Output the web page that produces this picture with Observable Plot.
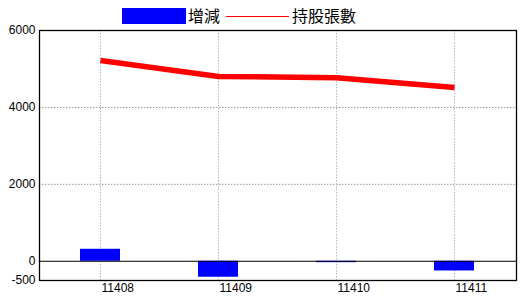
<!DOCTYPE html>
<html>
<head>
<meta charset="utf-8">
<script src="https://cdn.jsdelivr.net/npm/d3@7"></script>
<script src="https://cdn.jsdelivr.net/npm/@observablehq/plot@0.6"></script>
<style>
  html, body { margin: 0; padding: 0; background: #fff; }
  #wrap { position: relative; width: 520px; height: 300px; overflow: hidden; }
  #legend { position: relative; width: 520px; height: 24px; font-family: "Noto Sans CJK TC", "Noto Sans CJK SC", sans-serif; font-size: 16px; }
  #legend .sw { position: absolute; top: 8px; left: 122px; width: 64px; height: 16px; background: #0000ff; }
  #legend .t1 { position: absolute; top: 5px; left: 188px; line-height: 20px; }
  #legend .ln { position: absolute; top: 16px; left: 226px; width: 63px; height: 1px; background: #ff0000; }
  #legend .t2 { position: absolute; top: 5px; left: 292px; line-height: 20px; }
  svg { display: block; }
</style>
</head>
<body>
<div id="wrap">
  <div id="legend"><div class="sw"></div><span class="t1">增減</span><div class="ln"></div><span class="t2">持股張數</span></div>
  <div id="chart"></div>
</div>
<script>
const months = ["11408", "11409", "11410", "11411"];
const holdings = [5221, 4806, 4770, 4518];
const changes = [312, -415, -36, -252];
const yTicks = [6000, 4000, 2000, 0, -500];
const gridTicks = [2000, 4000];

const data = months.map((m, i) => ({month: m, holdings: holdings[i], change: changes[i]}));

const chart = Plot.plot({
  width: 520,
  height: 276,
  marginTop: 6,
  marginBottom: 20,
  marginLeft: 39,
  marginRight: 4,
  style: {fontFamily: "'Liberation Sans', Arial, sans-serif", fontSize: "12px", color: "#000", background: "#fff"},
  x: {type: "band", domain: months, paddingInner: 0.66, paddingOuter: 0.35, label: null},
  y: {domain: [-500, 6000], label: null},
  marks: [
    Plot.gridY(gridTicks, {stroke: "#999", strokeOpacity: 1, strokeDasharray: "1.5,1.5"}),
    Plot.gridX(months, {stroke: "#9dbdd3", strokeOpacity: 1, strokeDasharray: "1.5,1.5"}),
    Plot.barY(data, {x: "month", y: "change", fill: "#0000ff"}),
    Plot.ruleY([0], {stroke: "#000", strokeWidth: 1}),
    Plot.lineY(data, {x: "month", y: "holdings", stroke: "#ff0000", strokeWidth: 5.5, strokeLinecap: "butt"}),
    Plot.axisY(yTicks, {tickSize: 0, tickPadding: 4, fill: "#000", tickFormat: d => String(d)}),
    Plot.axisX(months, {tickSize: 0, tickPadding: 3, textAnchor: "start", dx: 1, fill: "#000"}),
    Plot.frame({stroke: "#000", strokeWidth: 1.3})
  ]
});
document.getElementById("chart").appendChild(chart);
</script>
</body>
</html>
